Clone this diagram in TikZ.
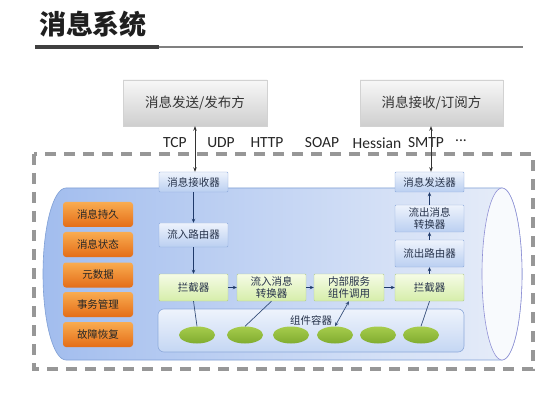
\documentclass[tikz,border=0pt]{standalone}
\usepackage{fontspec}
\setmainfont{Noto Sans CJK SC}
\newfontfamily\latfont{Carlito}
\usetikzlibrary{arrows.meta,shapes.geometric}
\definecolor{bbord}{HTML}{8EAADB}
\definecolor{btop}{HTML}{EEF3FC}
\definecolor{bbot}{HTML}{BACFF1}
\definecolor{gbord}{HTML}{B3CC8C}
\definecolor{gtop}{HTML}{F5FBE6}
\definecolor{gbot}{HTML}{D6EEAA}
\definecolor{otop}{HTML}{F9AC50}
\definecolor{obot}{HTML}{E46D18}
\definecolor{cylL}{HTML}{A2BDEE}
\definecolor{cylR}{HTML}{E8EEF9}
\definecolor{cylB}{HTML}{7F9FD5}
\definecolor{navy}{HTML}{1F3A6A}
\definecolor{elltop}{HTML}{A6CC4C}
\definecolor{ellbot}{HTML}{80AC30}
\definecolor{txt}{HTML}{26324A}
\definecolor{dashc}{HTML}{979797}
\begin{document}
\begin{tikzpicture}[x=1pt,y=-1pt,
  every node/.style={inner sep=0pt},
  topbox/.style={minimum width=144pt,minimum height=46pt,top color=gray!6,bottom color=gray!38,draw=gray!35,font=\fontsize{13.5}{15}\selectfont,text=black!80},
  bluebox/.style={minimum width=69pt,draw=bbord,top color=btop,bottom color=bbot,rounded corners=1pt,align=center,font=\fontsize{10.5}{11.5}\selectfont,text=txt},
  greenbox/.style={minimum width=69pt,minimum height=27pt,draw=gbord,top color=gtop,bottom color=gbot,rounded corners=1pt,align=center,font=\fontsize{10.5}{11.5}\selectfont,text=txt},
  orangebox/.style={minimum width=70pt,minimum height=25pt,rounded corners=3pt,top color=otop,bottom color=obot,font=\fontsize{10.5}{12}\selectfont,text=black!85},
  blob/.style={ellipse,minimum width=36pt,minimum height=17pt,top color=elltop,bottom color=ellbot},
  proto/.style={font=\latfont\fontsize{15.5}{17}\selectfont,text=black!85},
  arr/.style={draw=navy,line width=0.7pt,-{Stealth[length=4pt,width=3.5pt]}},
  darr/.style={draw=black!80,line width=0.7pt,{Stealth[length=4.5pt,width=3.5pt]}-{Stealth[length=4.5pt,width=3.5pt]}},
  lnk/.style={draw=navy!90,line width=0.7pt}
]
\useasboundingbox (0,0) rectangle (550,412);
\fill[white] (0,0) rectangle (550,412);

% title
\node[font=\fontsize{27}{30}\selectfont\bfseries,text=black!88] (title) at (93,24) {消息系统};
\draw[line width=4pt,black!75] (35,47) -- (159,47);
\draw[line width=1.6pt,black!50] (159,47) -- (523,47);

% outer dashed frame
\draw[dashc,line width=3.2pt,dash pattern=on 11pt off 8pt] (34,154) rectangle (533,369);

% cylinder body
\shade[left color=cylL,right color=cylR,draw=cylB,line width=0.6pt]
  (66,188) -- (502,188) .. controls (513,188) and (522,226.5) .. (522,274)
  .. controls (522,321.5) and (513,360) .. (502,360) -- (66,360)
  .. controls (53.3,360) and (43,321.5) .. (43,274)
  .. controls (43,226.5) and (53.3,188) .. (66,188) -- cycle;
\draw[fill=white!70!cylR,draw=gray!55!blue!60,line width=0.6pt] (502,274) ellipse [x radius=20, y radius=86];

% top boxes
\node[topbox] (pub) at (195,103) {消息发送/发布方};
\node[topbox,minimum width=143pt] (sub) at (431.5,103) {消息接收/订阅方};

% protocols
\node[proto] (p1) at (175,143) {TCP};
\node[proto] (p2) at (221,143) {UDP};
\node[proto] (p3) at (267,143) {HTTP};
\node[proto] (p4) at (322,143) {SOAP};
\node[proto] (p5) at (377,143) {Hessian};
\node[proto] (p6) at (426,143) {SMTP};
\node[proto] (p7) at (461,141) {...};

% orange boxes
\node[orangebox] (o1) at (98,214.5) {消息持久};
\node[orangebox] (o2) at (98,244.5) {消息状态};
\node[orangebox] (o3) at (98,275) {元数据};
\node[orangebox] (o4) at (98,304.5) {事务管理};
\node[orangebox] (o5) at (98,334.5) {故障恢复};

% component container
\shade[top color=btop,bottom color=bbot!85,draw=bbord,rounded corners=6pt,line width=0.6pt] (158,309) rectangle (464,352);
\node[font=\fontsize{10.5}{12}\selectfont,text=txt] (cont) at (311,320) {组件容器};
\node[blob] (e1) at (197,335) {};
\node[blob] (e2) at (245,335) {};
\node[blob] (e3) at (291,335) {};
\node[blob] (e4) at (335,335) {};
\node[blob] (e5) at (378,335) {};
\node[blob] (e6) at (421,335) {};

% process boxes
\node[bluebox,minimum height=20pt] (recv) at (193.5,182) {消息接收器};
\node[bluebox,minimum height=24pt] (inroute) at (193.5,235) {流入路由器};
\node[greenbox] (icptL) at (193.5,287.5) {拦截器};
\node[greenbox] (inconv) at (271.5,287.5) {流入消息\\转换器};
\node[greenbox,minimum width=70pt] (invoke) at (349,287.5) {内部服务\\组件调用};
\node[greenbox] (icptR) at (429.5,287.5) {拦截器};
\node[bluebox,minimum height=27pt] (outroute) at (429.5,253.5) {流出路由器};
\node[bluebox,minimum height=27pt] (outconv) at (429.5,218.5) {流出消息\\转换器};
\node[bluebox,minimum height=20pt] (send) at (429.5,182) {消息发送器};

% connectors
\draw[darr] (pub.south -| 195,0) -- (recv.north -| 195,0);
\draw[darr] (sub.south -| 431,0) -- (send.north -| 431,0);
\draw[arr] (recv) -- (inroute);
\draw[arr] (inroute) -- (icptL);
\draw[arr] (icptL) -- (inconv);
\draw[arr] (inconv) -- (invoke);
\draw[arr] (invoke) -- (icptR);
\draw[arr] (icptR) -- (outroute);
\draw[arr] (outroute) -- (outconv);
\draw[arr] (outconv) -- (send);
\draw[lnk] (icptL.south) -- (e1.north);
\draw[lnk] (inconv.south) -- (e2.north);
\draw[lnk,{Stealth[length=4pt,width=3.5pt]}-{Stealth[length=4pt,width=3.5pt]}] (invoke.south) -- (e4.north);
\draw[lnk] (icptR.south) -- (e6.north);
\end{tikzpicture}
\end{document}
